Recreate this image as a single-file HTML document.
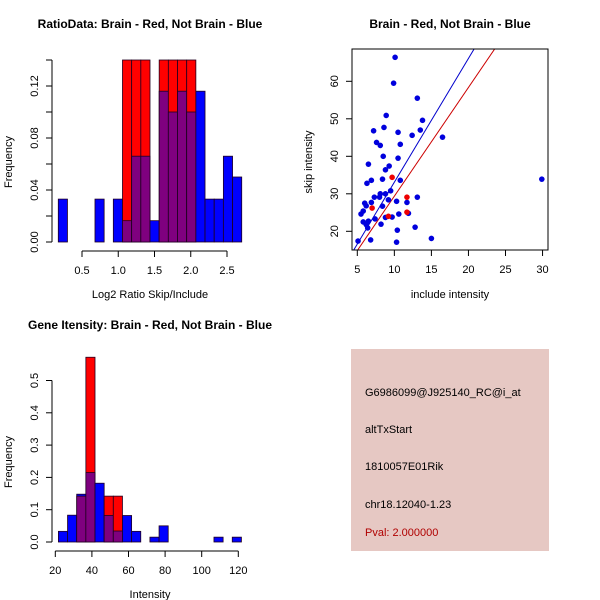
<!DOCTYPE html>
<html><head><meta charset="utf-8"><style>
body{margin:0;background:#fff}
svg{display:block;font-family:"Liberation Sans",sans-serif}
</style></head><body>
<svg id="c" width="600" height="600" viewBox="0 0 600 600">
<rect x="351" y="349" width="198" height="202" fill="#E6C8C3"/>
<g font-size="11" fill="#000">
<text x="365" y="396">G6986099@J925140_RC@i_at</text>
<text x="365" y="433">altTxStart</text>
<text x="365" y="470">1810057E01Rik</text>
<text x="365" y="508">chr18.12040-1.23</text>
<text x="365" y="536" fill="#B00000">Pval: 2.000000</text>
</g>
</svg>
<script>
// ---- histogram 1 data ----
const h1Start=0.173, h1Width=0.1265;
const h1Blue=[0.033,0,0,0,0.033,0,0.033,0.0164,0.066,0.066,0.0164,0.116,0.1,0.116,0.1,0.116,0.033,0.033,0.066,0.05];
const h1Red=[0,0,0,0,0,0,0,0.14,0.14,0.14,0,0.14,0.14,0.14,0.14,0,0,0,0,0];
const h1XTicks=[0.5,1.0,1.5,2.0,2.5];
const h1YTicks=[0,0.02,0.04,0.06,0.08,0.10,0.12,0.14];
const h1YLabels=["0.00","","0.04","","0.08","","0.12",""];
// ---- scatter data ----
const sBlueX=[5.1,10.1,9.9,13.1,8.9,13.8,8.6,7.2,10.5,13.5,12.4,16.5,7.6,8.1,10.8,8.5,10.5,6.5,9.3,8.8,6.9,8.4,10.8,6.3,9.5,8.1,8.8,7.3,8.0,9.2,13.1,6.9,6.0,6.2,10.3,11.7,8.4,5.8,5.5,10.6,11.9,8.8,9.7,7.4,5.8,6.5,6.2,6.4,8.2,12.8,10.4,6.8,10.3,15.0,29.9];
const sBlueY=[17.4,66.4,59.5,55.5,50.9,49.6,47.7,46.8,46.4,47.0,45.6,45.1,43.7,42.9,43.2,40.0,39.5,37.9,37.4,36.4,33.6,33.9,33.6,32.8,30.8,30.0,30.0,29.1,29.1,28.4,29.1,27.7,27.5,26.8,28.0,27.7,26.7,25.4,24.6,24.6,24.8,23.7,23.8,23.3,22.5,22.7,21.8,20.9,21.9,21.1,20.3,17.7,17.1,18.1,33.9];
const sRedX=[7.0,9.7,11.7,11.7,9.2];
const sRedY=[26.2,34.4,29.1,25.1,24.0];
const sBlueLine=[0.1,3.3];  // intercept, slope
const sRedLine=[0.36,2.9];
const sXTicks=[5,10,15,20,25,30];
const sYTicks=[20,30,40,50,60];
// ---- histogram 2 data ----
const h2Start=21.7, h2Width=5;
const h2Blue=[0.033,0.083,0.148,0.215,0.182,0.082,0.034,0.082,0.033,0,0.015,0.05,0,0,0,0,0,0.015,0,0.015];
const h2Red=[0,0,0.142,0.572,0,0.142,0.142,0,0,0,0,0,0,0,0,0,0,0,0,0];
const h2XTicks=[20,40,60,80,100,120];
const h2YTicks=[0,0.1,0.2,0.3,0.4,0.5];
const h2YLabels=["0.0","0.1","0.2","0.3","0.4","0.5"];

const svg=document.getElementById('c');
const NS='http://www.w3.org/2000/svg';
function mk(tag,attrs,parent){const e=document.createElementNS(NS,tag);for(const k in attrs)e.setAttribute(k,attrs[k]);(parent||svg).appendChild(e);return e;}
function txt(s,x,y,opts,parent){const t=mk('text',Object.assign({x:x,y:y,'text-anchor':'middle','font-size':11},opts||{}),parent);t.textContent=s;return t;}

function hist(cfg){
  const g=mk('g',{});
  
  
  const X=v=>cfg.x0+(v-cfg.xv0)*cfg.xs, Y=v=>cfg.y0-v*cfg.ys;
  cfg.blue.forEach((b,i)=>{
    const r=cfg.red[i], l=X(cfg.start+i*cfg.width), w=cfg.width*cfg.xs;
    const lo=Math.min(b,r), hi=Math.max(b,r);
    if(hi>0){
      const top=mk('rect',{x:l,y:Y(hi),width:w,height:Y(0)-Y(hi),fill:(r>b?'#FF0000':'#0000FF'),stroke:'#200020','stroke-width':0.8},g);
      
      
    }
    if(lo>0){
      const p=mk('rect',{x:l,y:Y(lo),width:w,height:Y(0)-Y(lo),fill:'#7F007F',stroke:'#200020','stroke-width':0.8},g);
      
      
    }
  });
  // y axis
  const ya=cfg.yt;
  mk('line',{x1:cfg.yax,x2:cfg.yax,y1:Y(ya[0]),y2:Y(ya[ya.length-1]),stroke:'#000'},g);
  ya.forEach((v,i)=>{
    mk('line',{x1:cfg.yax-6,x2:cfg.yax,y1:Y(v),y2:Y(v),stroke:'#000'},g);
    if(cfg.yl[i]){const t=txt(cfg.yl[i],cfg.yax-14,Y(v),{transform:'rotate(-90 '+(cfg.yax-14)+' '+Y(v)+')'},g);
      }
  });
  const xt=cfg.xt;
  mk('line',{x1:X(xt[0]),x2:X(xt[xt.length-1]),y1:cfg.xay,y2:cfg.xay,stroke:'#000'},g);
  xt.forEach((v,i)=>{
    mk('line',{x1:X(v),x2:X(v),y1:cfg.xay,y2:cfg.xay+6,stroke:'#000'},g);
    const t=txt(cfg.xl[i],X(v),cfg.xay+23,{},g);
    
  });
}
hist({name:'ratio-histogram',blue:h1Blue,red:h1Red,start:h1Start,width:h1Width,x0:82,xv0:0.5,xs:72.5,y0:242,ys:1300,yax:52,xay:251,
  xt:h1XTicks,xl:h1XTicks.map(v=>v.toFixed(1)),yt:h1YTicks,yl:h1YLabels});
hist({name:'intensity-histogram',blue:h2Blue,red:h2Red,start:h2Start,width:h2Width,x0:55.3,xv0:20,xs:1.83,y0:542,ys:323,yax:52,xay:551,
  xt:h2XTicks,xl:h2XTicks.map(String),yt:h2YTicks,yl:h2YLabels});

// titles / axis labels
let t;
t=txt('RatioData: Brain - Red, Not Brain - Blue',150,28,{'font-weight':'bold','font-size':12});

t=txt('Log2 Ratio Skip/Include',150,298);

t=txt('Frequency',12,162,{transform:'rotate(-90 12 162)'});

t=txt('Brain - Red, Not Brain - Blue',450,28,{'font-weight':'bold','font-size':12});

t=txt('include intensity',450,298);

t=txt('skip intensity',312,162,{transform:'rotate(-90 312 162)'});

t=txt('Gene Itensity: Brain - Red, Not Brain - Blue',150,329,{'font-weight':'bold','font-size':12});

t=txt('Intensity',150,598);

t=txt('Frequency',12,462,{transform:'rotate(-90 12 462)'});


// scatter
const sg=mk('g',{});


const BX0=352,BX1=548,BY0=49,BY1=250;
const SX=v=>357.3+(v-5)*7.41, SY=v=>231.3-(v-20)*3.75;
mk('defs',{},sg).innerHTML='<clipPath id="clp"><rect x="352" y="49" width="196" height="201"/></clipPath>';
function fitLine(p,col,name){
  const xa=4,xb=31;
  const l=mk('line',{x1:SX(xa),y1:SY(p[0]+p[1]*xa),x2:SX(xb),y2:SY(p[0]+p[1]*xb),stroke:col,'stroke-width':1,'clip-path':'url(#clp)'},sg);
  
  
}
fitLine(sBlueLine,'#0000CC','blue-fit-line');
fitLine(sRedLine,'#CC0000','red-fit-line');
sBlueX.forEach((x,i)=>{
  const c=mk('circle',{cx:SX(x),cy:SY(sBlueY[i]),r:2.8,fill:'#0000DD'},sg);
  
  
});
sRedX.forEach((x,i)=>{
  const c=mk('circle',{cx:SX(x),cy:SY(sRedY[i]),r:2.8,fill:'#EE0000'},sg);
  
  
});
mk('rect',{x:BX0,y:BY0,width:BX1-BX0,height:BY1-BY0,fill:'none',stroke:'#000'},sg);
sXTicks.forEach(v=>{
  mk('line',{x1:SX(v),x2:SX(v),y1:BY1,y2:BY1+6,stroke:'#000'},sg);
  const tt=txt(String(v),SX(v),BY1+23,{},sg);
  
});
sYTicks.forEach(v=>{
  mk('line',{x1:BX0-6,x2:BX0,y1:SY(v),y2:SY(v),stroke:'#000'},sg);
  const tt=txt(String(v),BX0-14,SY(v),{transform:'rotate(-90 '+(BX0-14)+' '+SY(v)+')'},sg);
  
});
</script>
</body></html>
